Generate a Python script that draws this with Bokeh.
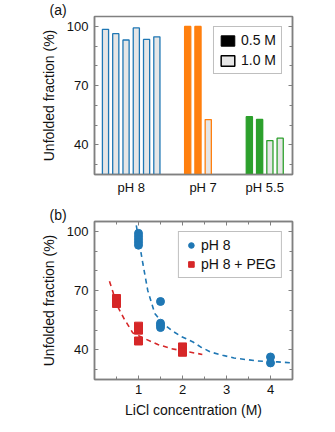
from bokeh.plotting import figure
from bokeh.layouts import column
from bokeh.models import (FixedTicker, LinearAxis, Legend, LegendItem, Title,
                          Range1d, ColumnDataSource)
from bokeh.embed import file_html
from bokeh.resources import INLINE

# ---------------- data: panel (a) ----------------
groups = ["pH 8", "pH 7", "pH 5.5"]
ph8_05M = []
ph8_10M = [98.5, 96.3, 93.1, 99.2, 93.4, 94.7]
ph7_05M = [100.0, 100.0]
ph7_10M = [52.8]
ph55_05M = [54.3, 52.9]
ph55_10M = [42.2, 43.4]
group_colors = ["#1f77b4", "#ff7f0e", "#2ca02c"]
group_slots = [6, 4, 4]          # bar slots reserved per group
y_ticks = [40, 70, 100]
y_minor = [30, 40, 50, 60, 70, 80, 90, 100]

# ---------------- data: panel (b) ----------------
ph8_x = [1, 1, 1, 1, 1, 1.5, 1.5, 1.5, 1.5, 4, 4]
ph8_y = [99.0, 97.5, 96.0, 94.5, 93.0, 64.5, 53.5, 52.5, 51.3, 36.4, 33.4]
peg_x = [0.5, 0.5, 1, 1, 1, 2, 2]
peg_y = [66.0, 63.5, 52.0, 50.0, 44.5, 41.5, 38.8]
ph8_fit_x = [0.95, 1.10, 1.21, 1.37, 1.55, 1.75, 1.96, 2.24, 2.41, 2.64, 2.91, 3.17, 3.44, 3.71, 4.16, 4.5]
ph8_fit_y = [103.0, 83.6, 70.1, 58.4, 53.5, 49.9, 46.9, 44.0, 41.5, 38.9, 37.3, 35.9, 35.1, 34.4, 33.9, 33.4]
peg_fit_x = [0.34, 0.42, 0.49, 0.68, 0.87, 1.14, 1.44, 1.75, 2.16, 2.45]
peg_fit_y = [74.7, 69.3, 63.4, 55.5, 48.6, 45.7, 42.7, 40.6, 38.9, 37.7]
x_ticks_b = [1, 2, 3, 4]
x_minor_b = [0.5, 1, 1.5, 2, 2.5, 3, 3.5, 4, 4.5]

FONT = "Liberation Sans"
FRAME = "#808080"
LIGHT = "#e6e6e6"
Y0, Y1 = 25, 105
NAN = float("nan")


def style_axes(p):
    for ax in p.axis:
        ax.axis_line_color = FRAME
        ax.axis_line_width = 1.5
        ax.major_tick_line_color = FRAME
        ax.minor_tick_line_color = FRAME
        ax.major_tick_in = 4
        ax.major_tick_out = 0
        ax.minor_tick_in = 3
        ax.minor_tick_out = 0
        ax.major_label_text_font = FONT
        ax.major_label_text_font_size = "13px"
        ax.major_label_text_color = "#111111"
        ax.axis_label_text_font = FONT
        ax.axis_label_text_font_size = "14px"
        ax.axis_label_text_font_style = "normal"
        ax.axis_label_text_color = "#111111"
    p.outline_line_color = FRAME
    p.outline_line_width = 1.5
    p.xgrid.visible = False
    p.ygrid.visible = False


def mirror_axis(p, side, ticker):
    ax = LinearAxis(ticker=ticker)
    ax.major_label_text_font_size = "0px"
    ax.major_label_text_color = None
    ax.major_label_standoff = 0
    ax.axis_line_color = FRAME
    ax.axis_line_width = 1.5
    ax.major_tick_line_color = FRAME
    ax.minor_tick_line_color = FRAME
    ax.major_tick_in = 4
    ax.major_tick_out = 0
    ax.minor_tick_in = 3
    ax.minor_tick_out = 0
    p.add_layout(ax, side)


def panel_title(text):
    return Title(text=text, align="left", offset=-45, standoff=-2,
                 text_font=FONT, text_font_size="14px",
                 text_font_style="normal", text_color="#111111")


# ================= panel (a) =================
p1 = figure(width=308, height=200, output_backend="svg", toolbar_location=None,
            x_range=Range1d(-1.07, 18.2), y_range=Range1d(Y0, Y1),
            min_border_left=94, min_border_right=16, min_border_top=15,
            min_border_bottom=26, title=panel_title("(a)"))

series = [(ph8_05M, ph8_10M), (ph7_05M, ph7_10M), (ph55_05M, ph55_10M)]
start = 0
centers = []
for (v05, v10), col, nslot in zip(series, group_colors, group_slots):
    xs05 = [start + i for i in range(len(v05))]
    xs10 = [start + len(v05) + i for i in range(len(v10))]
    if v05:
        p1.vbar(x=xs05, top=v05, bottom=Y0, width=0.6, fill_color=col,
                line_color=col, line_width=1.3)
    if v10:
        p1.vbar(x=xs10, top=v10, bottom=Y0, width=0.6, fill_color=LIGHT,
                line_color=col, line_width=1.3)
    centers.append(start + (nslot - 1) / 2)
    start += nslot + 2

p1.xaxis.ticker = FixedTicker(ticks=centers)
p1.xaxis.major_label_overrides = {c: g for c, g in zip(centers, groups)}
p1.yaxis.ticker = FixedTicker(ticks=y_ticks, minor_ticks=y_minor)
p1.yaxis.axis_label = "Unfolded fraction (%)"
style_axes(p1)
mirror_axis(p1, "right", FixedTicker(ticks=y_ticks, minor_ticks=y_minor))
p1.xaxis[0].major_tick_in = 0
p1.xaxis[0].minor_tick_in = 0
p1.xaxis[0].major_label_standoff = 5
p1.yaxis[0].major_label_standoff = 6
p1.yaxis[0].axis_label_standoff = 7

legend_src = ColumnDataSource(dict(x=[NAN], top=[NAN]))
r_black = p1.vbar(x="x", top="top", width=0.6, source=legend_src,
                  fill_color="black", line_color="black")
r_light = p1.vbar(x="x", top="top", width=0.6, source=legend_src,
                  fill_color=LIGHT, line_color="black", line_width=1.5)
leg1 = Legend(items=[LegendItem(label="0.5 M", renderers=[r_black]),
                     LegendItem(label="1.0 M", renderers=[r_light])],
              location="top_right", margin=10, padding=5, spacing=4,
              glyph_width=17, glyph_height=13, label_height=16,
              label_standoff=5, label_text_font=FONT,
              label_text_font_size="14px", label_text_color="#111111",
              border_line_color=FRAME, border_line_width=1.3,
              background_fill_alpha=1)
p1.add_layout(leg1)

# ================= panel (b) =================
p2 = figure(width=308, height=224, output_backend="svg", toolbar_location=None,
            x_range=Range1d(0, 4.5), y_range=Range1d(Y0, Y1),
            min_border_left=94, min_border_right=16, min_border_top=21,
            min_border_bottom=45, title=panel_title("(b)"))

p2.line(ph8_fit_x, ph8_fit_y, line_color="#1f77b4", line_width=1.6,
        line_dash="5 4")
p2.line(peg_fit_x, peg_fit_y, line_color="#d62728", line_width=1.6,
        line_dash="5 4")
s1 = p2.scatter(ph8_x, ph8_y, marker="circle", size=8, fill_color="#1f77b4",
                line_color="#1f77b4")
s2 = p2.scatter(peg_x, peg_y, marker="square", size=8, fill_color="#d62728",
                line_color="#d62728")

p2.xaxis.ticker = FixedTicker(ticks=x_ticks_b, minor_ticks=x_minor_b)
p2.yaxis.ticker = FixedTicker(ticks=y_ticks, minor_ticks=y_minor)
p2.xaxis.axis_label = "LiCl concentration (M)"
p2.yaxis.axis_label = "Unfolded fraction (%)"
style_axes(p2)
mirror_axis(p2, "right", FixedTicker(ticks=y_ticks, minor_ticks=y_minor))
mirror_axis(p2, "above", FixedTicker(ticks=x_ticks_b, minor_ticks=x_minor_b))
p2.xaxis[0].major_label_standoff = 6
p2.xaxis[0].axis_label_standoff = 7
p2.yaxis[0].major_label_standoff = 6
p2.yaxis[0].axis_label_standoff = 7

leg2 = Legend(items=[LegendItem(label="pH 8", renderers=[s1]),
                     LegendItem(label="pH 8 + PEG", renderers=[s2])],
              location="top_right", margin=10, padding=5, spacing=3,
              glyph_width=14, glyph_height=14, label_height=16,
              label_standoff=3, label_text_font=FONT,
              label_text_font_size="14px", label_text_color="#111111",
              border_line_color=FRAME, border_line_width=1.3,
              background_fill_alpha=1)
p2.add_layout(leg2)

layout = column(p1, p2)
open("out.html", "w").write(file_html(layout, INLINE))
